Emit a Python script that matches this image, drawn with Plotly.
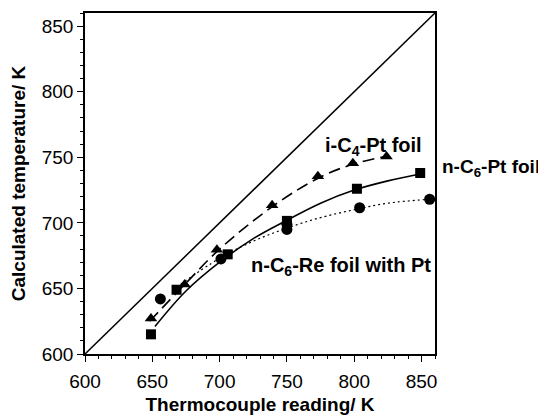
import plotly.graph_objects as go

# Marker data
tri_x = [649, 674, 698, 739, 773, 799, 824]
tri_y = [627, 653, 679.5, 713.5, 735.5, 745.5, 750.5]

sq_x = [649, 668, 706, 750, 802, 849]
sq_y = [615, 649, 676, 701.5, 726, 738]

circ_x = [656, 701, 750, 750, 804, 856]
circ_y = [642, 672.5, 699, 695, 711.5, 718]

# Fitted curves
tri_fit_x = [648, 675, 700, 740, 775, 800, 825]
tri_fit_y = [625, 654, 680, 713, 735, 745, 751]

sq_fit_x = [652, 675, 700, 725, 750, 775, 800, 825, 848]
sq_fit_y = [621, 648, 670, 688, 702, 715, 725, 732, 737]

circ_fit_x = [668, 700, 725, 750, 775, 800, 825, 856]
circ_fit_y = [651, 673, 686, 696, 704, 710, 715, 718]

diag = [600, 860]

ticks = [600, 650, 700, 750, 800, 850]

FONT = "Liberation Sans, Arial, sans-serif"

fig = go.Figure()
fig.add_trace(go.Scatter(x=diag, y=diag, mode="lines",
                         line=dict(color="black", width=1.5)))
fig.add_trace(go.Scatter(x=tri_fit_x, y=tri_fit_y, mode="lines", line_shape="spline",
                         line=dict(color="black", width=1.6, dash="12px,6px")))
fig.add_trace(go.Scatter(x=sq_fit_x, y=sq_fit_y, mode="lines", line_shape="spline",
                         line=dict(color="black", width=1.6)))
fig.add_trace(go.Scatter(x=circ_fit_x, y=circ_fit_y, mode="lines", line_shape="spline",
                         line=dict(color="black", width=1.2, dash="2px,3px")))
fig.add_trace(go.Scatter(x=tri_x, y=tri_y, mode="markers",
                         marker=dict(symbol="triangle-up", size=11, color="black")))
fig.add_trace(go.Scatter(x=sq_x, y=sq_y, mode="markers",
                         marker=dict(symbol="square", size=10, color="black")))
fig.add_trace(go.Scatter(x=circ_x, y=circ_y, mode="markers",
                         marker=dict(symbol="circle", size=11, color="black")))

# page has an 8px body margin, so plot-area pixel positions are offset by 8
L, T, W, H = 77, 5, 350, 341

ann_font = dict(family=FONT, size=20, color="black")
fig.add_annotation(x=777, y=758, text="<b>i-C<sub>4</sub>-Pt foil</b>", showarrow=False,
                   xanchor="left", yanchor="middle", font=ann_font)
fig.add_annotation(xref="paper", yref="paper", x=(440 - 85) / W, y=(354 - 168) / H,
                   text="<b>n-C<sub>6</sub>-Pt foil</b>", showarrow=False,
                   xanchor="left", yanchor="middle",
                   font=dict(family=FONT, size=19, color="black"))
fig.add_annotation(x=721.5, y=667, text="<b>n-C<sub>6</sub>-Re foil with Pt</b>", showarrow=False,
                   xanchor="left", yanchor="middle", font=ann_font)

axis_common = dict(
    showgrid=False, zeroline=False, showline=True, linecolor="black", linewidth=1.5,
    mirror=True, ticks="outside", ticklen=6, tickwidth=1.2, tickcolor="black",
    tickvals=ticks, tickfont=dict(family=FONT, size=19, color="black"),
    minor=dict(dtick=10, ticks="outside", ticklen=3, tickwidth=1, tickcolor="black"),
    automargin=False,
)

fig.update_layout(
    width=546, height=416,
    margin=dict(l=L, r=546 - L - W, t=T, b=416 - T - H),
    paper_bgcolor="white", plot_bgcolor="white",
    showlegend=False,
    xaxis=dict(range=[600, 860], ticklabelstandoff=3,
               title=dict(text="<b>Thermocouple reading/ K</b>",
                          font=dict(family=FONT, size=19, color="black"), standoff=7),
               **axis_common),
    yaxis=dict(range=[600, 860],
               title=dict(text="<b>Calculated temperature/ K</b>",
                          font=dict(family=FONT, size=19, color="black"), standoff=12),
               **axis_common),
)

fig.write_html("out.html")
